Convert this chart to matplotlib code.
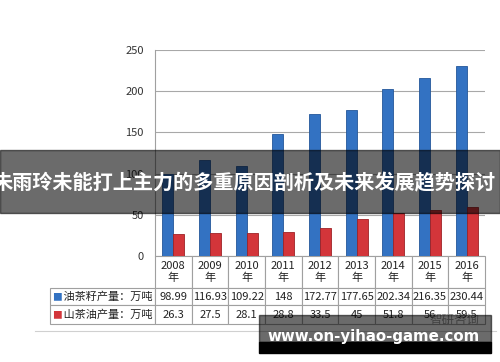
"""Oil-tea seed / camellia oil output chart with data table."""
import matplotlib
matplotlib.use('Agg')
import matplotlib.pyplot as plt
from matplotlib.patches import Rectangle
import numpy as np

plt.rcParams['font.family'] = ['Noto Sans CJK SC', 'DejaVu Sans']

years = ['2008', '2009', '2010', '2011', '2012', '2013', '2014', '2015', '2016']
seed_output = [98.99, 116.93, 109.22, 148, 172.77, 177.65, 202.34, 216.35, 230.44]
oil_output = [26.3, 27.5, 28.1, 28.8, 33.5, 45, 51.8, 56, 59.5]
seed_label = '油茶籽产量：万吨'
oil_label = '山茶油产量：万吨'
y_ticks = [0, 50, 100, 150, 200, 250]
title = '朱雨玲未能打上主力的多重原因剖析及未来发展趋势探讨'
site = 'www.on-yihao-game.com'

W, H = 500, 362
fig = plt.figure(figsize=(W / 100, H / 100), dpi=100)


def fx(px):
    return px / W


def fy(py):
    return 1 - py / H


# main axes, placed in pixel terms
ax = fig.add_axes([fx(155), fy(256), fx(485) - fx(155), fy(50) - fy(256)])
x = np.arange(len(years))
bw = 0.3
ax.bar(x - bw / 2, seed_output, bw, color='#3372c2', edgecolor='#24579a',
       linewidth=0.6, zorder=3)
ax.bar(x + bw / 2, oil_output, bw, color='#d3353a', edgecolor='#9e2226',
       linewidth=0.6, zorder=3)
ax.set_xlim(-0.5, len(years) - 0.5)
ax.set_ylim(0, 250)
ax.set_yticks(y_ticks)
ax.set_yticklabels([str(t) for t in y_ticks], fontsize=8, color='#333333')
ax.set_xticks([])
ax.tick_params(axis='y', length=0, pad=8)
ax.grid(axis='y', color='#a8a8a8', linewidth=0.8, zorder=0)
for s in ['top', 'right', 'bottom']:
    ax.spines[s].set_visible(False)
ax.spines['left'].set_color('#a0a0a0')
ax.spines['left'].set_linewidth(0.8)

# data table under the bars; sizes in axes units so the bbox does not rescale
ah = 206.0
aw = 330.0
row_h = {0: 32 / ah, 1: 17 / ah, 2: 19 / ah}
tab = ax.table(
    cellText=[['%g' % v for v in seed_output], ['%g' % v for v in oil_output]],
    colLabels=[y + '\n年' for y in years],
    cellLoc='center',
    bbox=[0, -sum(row_h.values()), 1, sum(row_h.values())])
# row labels with a fixed width (the built-in ones auto-size)
for r, lab in [(1, seed_label), (2, oil_label)]:
    tab.add_cell(r, -1, width=105 / aw, height=row_h[r], text=' ' + lab, loc='left')
tab.auto_set_font_size(False)
for (r, c), cell in tab.get_celld().items():
    cell.set_edgecolor('#a0a0a0')
    cell.set_linewidth(0.8)
    cell.get_text().set_fontsize(8)
    cell.get_text().set_color('#222222')
    cell.set_height(row_h[r])
    cell.set_width(105 / aw if c == -1 else 1 / len(years))

fig.text(fx(57), fy(297), '■', color='#3372c2', fontsize=7, ha='center', va='center')
fig.text(fx(57), fy(315), '■', color='#d3353a', fontsize=7, ha='center', va='center')

# bottom frame line of the original chart
fig.add_artist(plt.Line2D([fx(35), fx(496)], [fy(331), fy(331)],
                          color='#d0d0d0', linewidth=0.8))
fig.text(fx(455), fy(320), '智研咨询', color='#9a9a9a', fontsize=9,
         ha='center', va='center')

# overlay banner
fig.add_artist(Rectangle((0, fy(213)), 1, fy(150) - fy(213),
                         transform=fig.transFigure, color='black', alpha=0.58,
                         zorder=10))
fig.text(fx(244), fy(183), title, color='white', fontsize=14.5, fontweight='bold',
         ha='center', va='center', zorder=11)

# site watermark
fig.add_artist(Rectangle((fx(259), fy(342)), fx(491) - fx(259), fy(315) - fy(342),
                         transform=fig.transFigure, color='black', alpha=0.58,
                         zorder=10))
fig.add_artist(Rectangle((fx(259), fy(353)), fx(491) - fx(259), fy(342) - fy(353),
                         transform=fig.transFigure, color='black', zorder=10))
fig.text(fx(374), fy(336), site, color='white', fontsize=10.8, fontweight='bold',
         family='DejaVu Sans', ha='center', va='center', zorder=11)

fig.savefig('out.png', dpi=100)
